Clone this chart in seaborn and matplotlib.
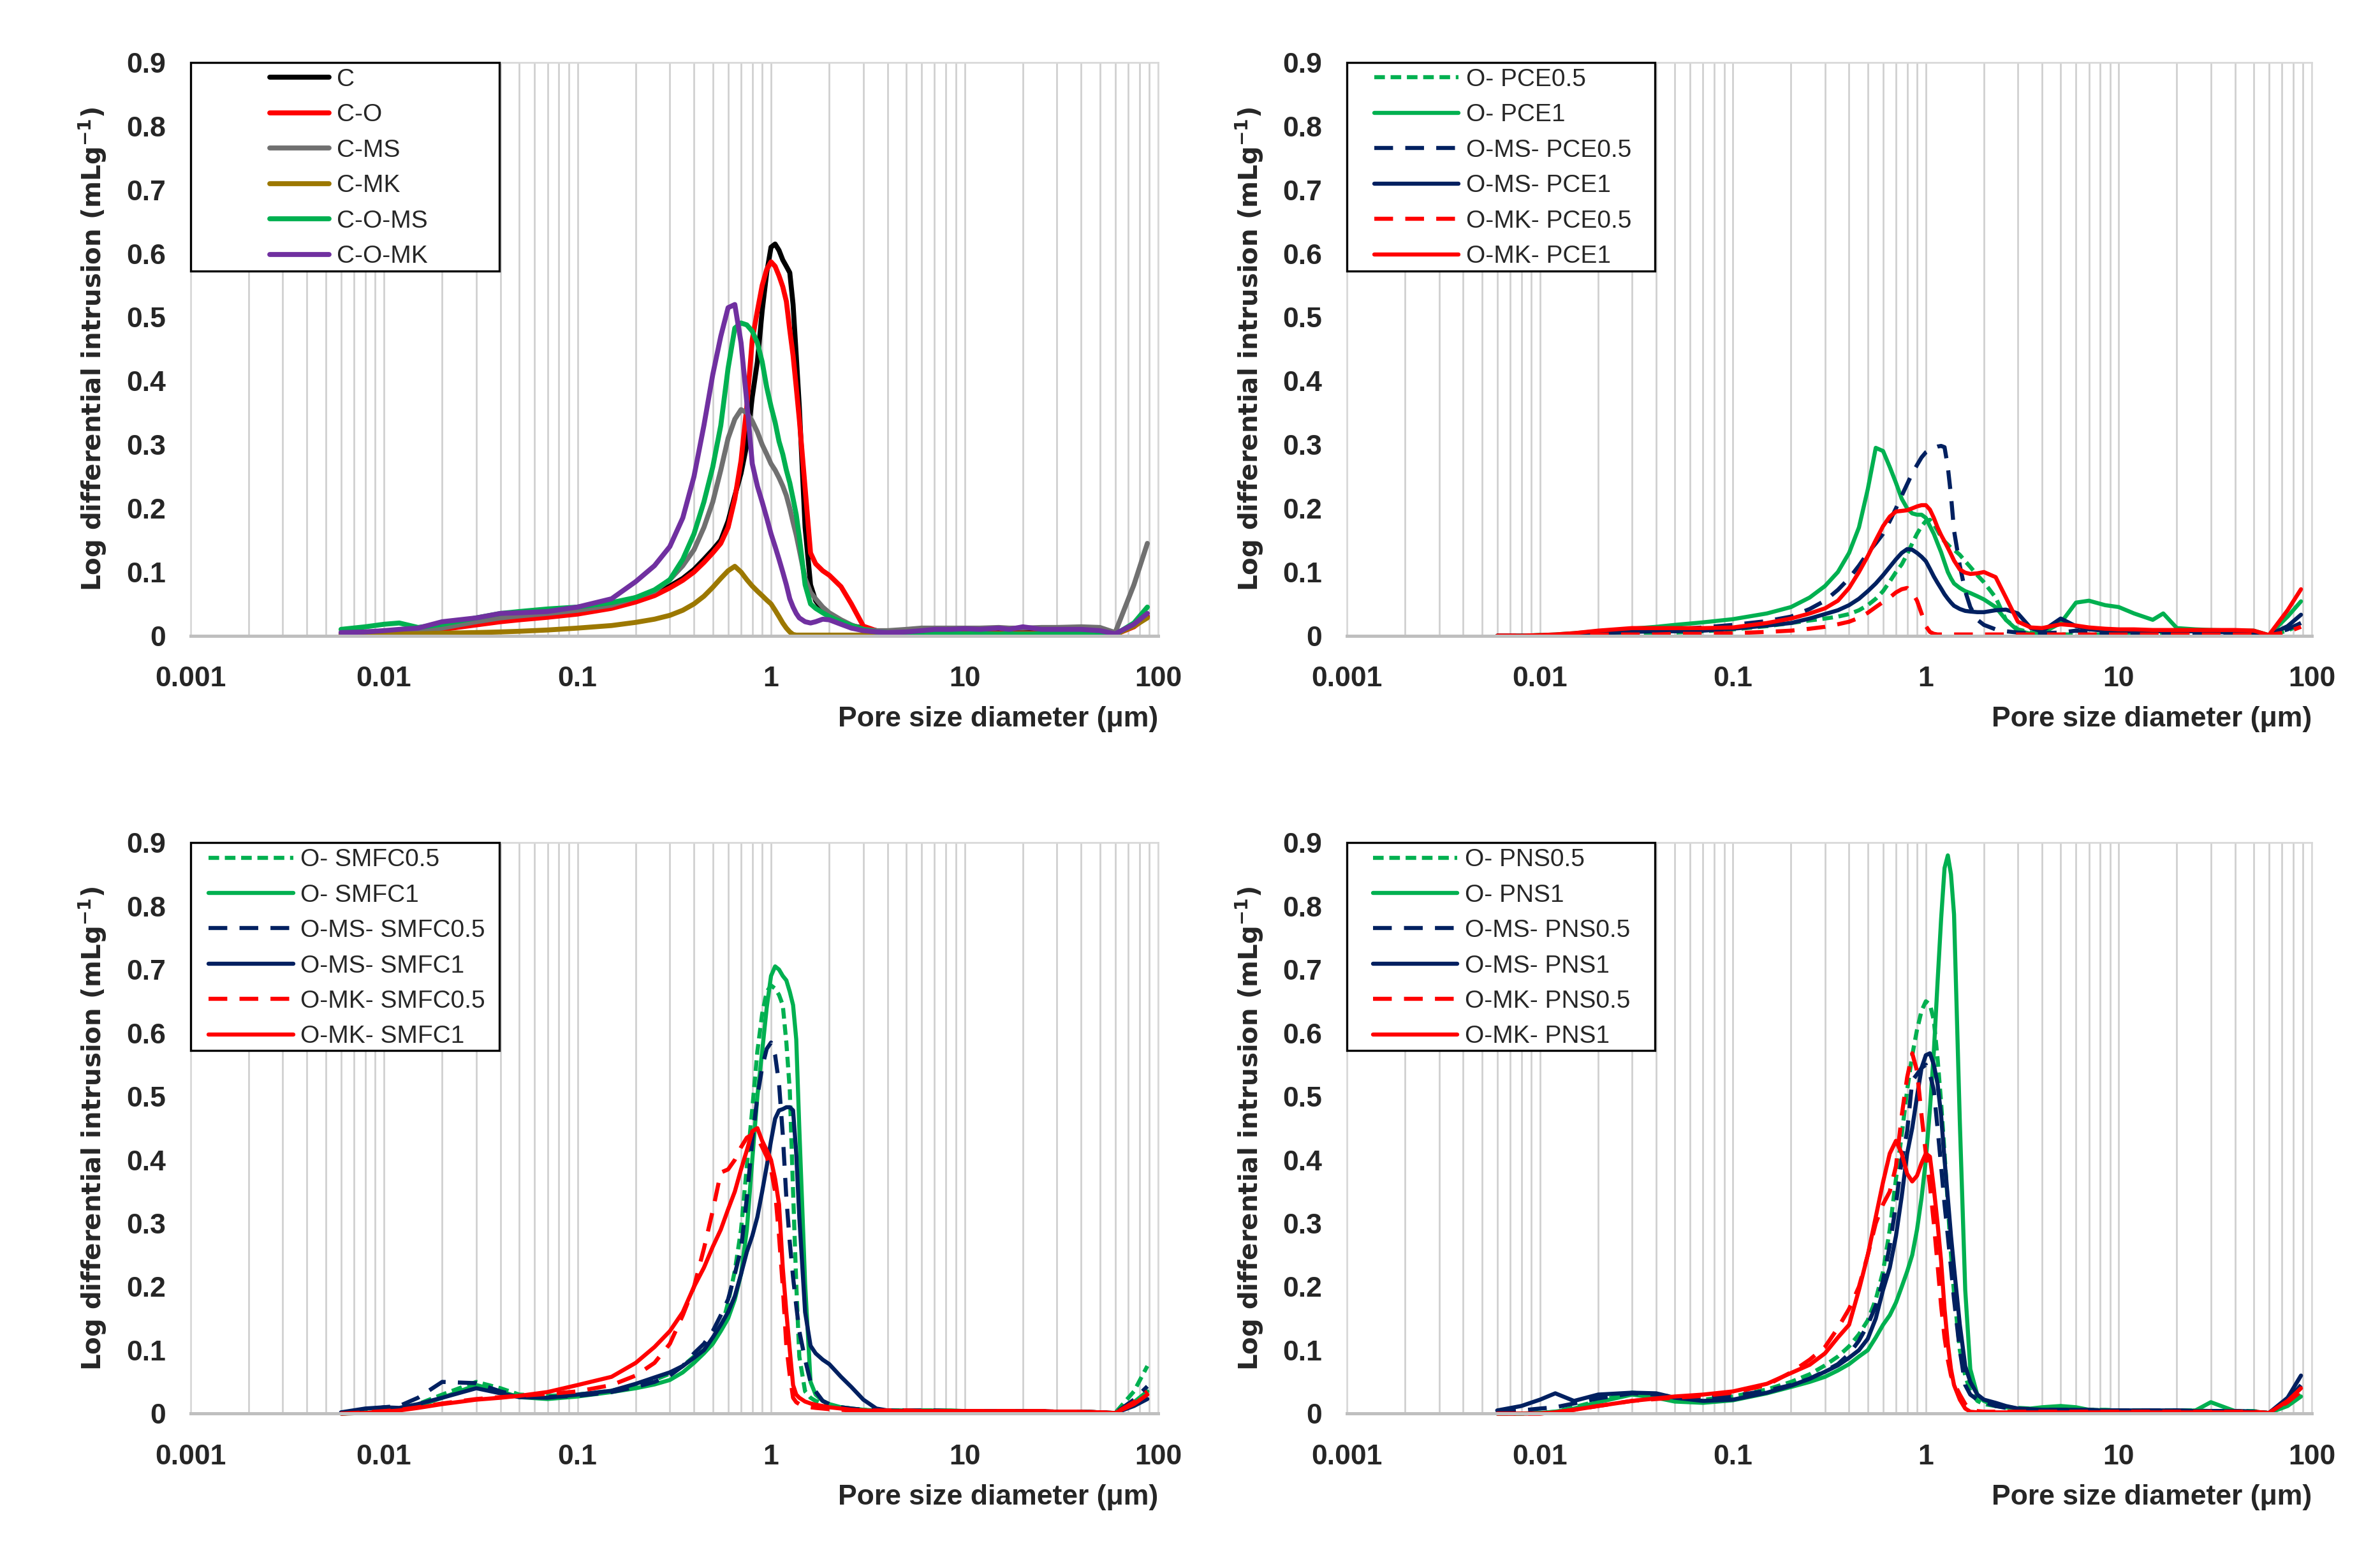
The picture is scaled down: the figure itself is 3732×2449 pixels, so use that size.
import numpy as np
import pandas as pd
import seaborn as sns
import matplotlib
matplotlib.use('Agg')
import matplotlib.pyplot as plt
from matplotlib.ticker import LogLocator, FixedLocator, FuncFormatter, NullFormatter
from matplotlib.patches import Rectangle

# pore diameter grid (um), shared by every curve
diam = [0.006, 0.008, 0.01, 0.012, 0.015,
        0.02, 0.03, 0.04, 0.05, 0.07,
        0.1, 0.15, 0.2, 0.25, 0.3,
        0.35, 0.4, 0.45, 0.5, 0.55,
        0.6, 0.65, 0.7, 0.75, 0.8,
        0.85, 0.9, 0.95, 1.0, 1.05,
        1.1, 1.15, 1.2, 1.25, 1.3,
        1.35, 1.4, 1.5, 1.6, 1.7,
        1.85, 2.0, 2.3, 2.6, 3.0,
        3.5, 4.0, 5.0, 6.0, 7.0,
        8.5, 10, 12, 15, 17,
        20, 25, 30, 40, 50,
        60, 75, 88]

# ---- panel 1: reference mixes
c_mix = [0.003, 0.004, 0.005, 0.006, 0.008,
         0.012, 0.02, 0.025, 0.028, 0.032,
         0.038, 0.046, 0.055, 0.065, 0.078,
         0.09, 0.104, 0.12, 0.135, 0.15,
         0.18, 0.22, 0.255, 0.30, 0.375,
         0.43, 0.51, 0.57, 0.61, 0.615,
         0.605, 0.59, 0.58, 0.57, 0.52,
         0.44, 0.36, 0.17, 0.08, 0.055,
         0.04, 0.03, 0.022, 0.016, 0.012,
         0.008, 0.006, 0.005, 0.005, 0.006,
         0.007, 0.008, 0.008, 0.008, 0.008,
         0.008, 0.007, 0.007, 0.006, 0.005,
         0.003, 0.015, 0.03]
c_o = [0.002, 0.003, 0.004, 0.005, 0.007,
       0.01, 0.017, 0.022, 0.025, 0.029,
       0.034, 0.043, 0.053, 0.063, 0.075,
       0.087, 0.1, 0.115, 0.13, 0.145,
       0.17, 0.215, 0.275, 0.36, 0.465,
       0.51, 0.55, 0.575, 0.587, 0.58,
       0.565, 0.548, 0.525, 0.48, 0.44,
       0.39, 0.34, 0.232, 0.13, 0.113,
       0.102, 0.095, 0.077, 0.05, 0.015,
       0.008, 0.005, 0.004, 0.004, 0.004,
       0.004, 0.004, 0.004, 0.004, 0.004,
       0.004, 0.004, 0.004, 0.004, 0.004,
       0.002, 0.014, 0.03]
c_ms = [0.005, 0.006, 0.007, 0.008, 0.009,
        0.012, 0.022, 0.028, 0.031, 0.035,
        0.04, 0.048, 0.06, 0.07, 0.088,
        0.11, 0.135, 0.17, 0.21, 0.26,
        0.31, 0.34, 0.355, 0.35, 0.337,
        0.32, 0.3, 0.285, 0.27, 0.26,
        0.248, 0.235, 0.22, 0.2, 0.178,
        0.158, 0.135, 0.09, 0.068, 0.058,
        0.045, 0.036, 0.025, 0.017, 0.01,
        0.008, 0.008, 0.01, 0.012, 0.012,
        0.012, 0.012, 0.012, 0.013, 0.012,
        0.012, 0.013, 0.013, 0.014, 0.013,
        0.005, 0.08, 0.145]
c_mk = [0.001, 0.002, 0.002, 0.003, 0.003,
        0.004, 0.005, 0.006, 0.007, 0.009,
        0.012, 0.016, 0.021, 0.026, 0.032,
        0.04, 0.05, 0.062, 0.076, 0.09,
        0.102, 0.109, 0.1, 0.088, 0.078,
        0.07, 0.063, 0.056, 0.05, 0.04,
        0.03, 0.02, 0.012, 0.006, 0.002,
        0.001, 0.001, 0.001, 0.001, 0.001,
        0.001, 0.001, 0.001, 0.001, 0.001,
        0.001, 0.001, 0.001, 0.001, 0.001,
        0.001, 0.001, 0.001, 0.001, 0.001,
        0.001, 0.001, 0.001, 0.001, 0.001,
        0.002, 0.015, 0.028]
c_o_ms = [0.01, 0.014, 0.018, 0.02, 0.013,
          0.018, 0.028, 0.035, 0.038, 0.042,
          0.045, 0.052, 0.06, 0.072, 0.088,
          0.12, 0.16, 0.21, 0.265, 0.33,
          0.42, 0.483, 0.491, 0.488, 0.478,
          0.46, 0.43, 0.39, 0.36, 0.335,
          0.305, 0.285, 0.26, 0.24, 0.215,
          0.19, 0.155, 0.08, 0.05, 0.043,
          0.036, 0.03, 0.022, 0.016, 0.01,
          0.006, 0.005, 0.004, 0.003, 0.003,
          0.003, 0.003, 0.003, 0.003, 0.003,
          0.003, 0.003, 0.004, 0.004, 0.004,
          0.002, 0.02, 0.045]
c_o_mk = [0.005, 0.006, 0.008, 0.01, 0.012,
          0.022, 0.028, 0.035, 0.036, 0.038,
          0.045, 0.058, 0.085, 0.11, 0.14,
          0.185, 0.25, 0.33, 0.41, 0.47,
          0.515, 0.52, 0.46, 0.366, 0.27,
          0.235, 0.21, 0.185, 0.16, 0.14,
          0.12, 0.1, 0.08, 0.058, 0.045,
          0.035, 0.028, 0.022, 0.02, 0.022,
          0.026, 0.025, 0.018, 0.012, 0.008,
          0.006, 0.005, 0.006, 0.008, 0.01,
          0.01, 0.011, 0.01, 0.012, 0.01,
          0.014, 0.01, 0.01, 0.01, 0.008,
          0.003, 0.018, 0.035]

# ---- panel 2: PCE
o_pce05 = [0.0, 0.0, 0.001, 0.001, 0.002,
           0.003, 0.004, 0.005, 0.005, 0.007,
           0.01, 0.015, 0.02, 0.024, 0.027,
           0.03, 0.034, 0.04, 0.048, 0.058,
           0.07, 0.085, 0.1, 0.112, 0.128,
           0.145, 0.16, 0.172, 0.18, 0.182,
           0.175, 0.165, 0.155, 0.148, 0.143,
           0.138, 0.135, 0.127, 0.117, 0.108,
           0.095, 0.084, 0.06, 0.025, 0.01,
           0.005, 0.003, 0.002, 0.002, 0.002,
           0.002, 0.002, 0.002, 0.002, 0.002,
           0.002, 0.002, 0.002, 0.002, 0.002,
           0.001, 0.008, 0.018]
o_pce1 = [0.0, 0.0, 0.001, 0.002, 0.004,
          0.007, 0.011, 0.014, 0.017, 0.021,
          0.026, 0.035, 0.045, 0.06, 0.078,
          0.1, 0.13, 0.17, 0.23, 0.295,
          0.29, 0.265, 0.24, 0.215, 0.2,
          0.192, 0.19, 0.19, 0.185, 0.172,
          0.16, 0.145, 0.131, 0.115, 0.1,
          0.09, 0.082, 0.075, 0.07, 0.067,
          0.062, 0.057, 0.045, 0.025, 0.008,
          0.003, 0.004, 0.02, 0.052, 0.055,
          0.048, 0.045, 0.035, 0.025, 0.035,
          0.012, 0.01, 0.009, 0.008, 0.008,
          0.001, 0.03, 0.054]
o_ms_pce05 = [0.0, 0.0, 0.0, 0.001, 0.002,
              0.004, 0.007, 0.009, 0.01, 0.013,
              0.017, 0.023, 0.03, 0.042, 0.055,
              0.072, 0.09, 0.11, 0.13, 0.145,
              0.16, 0.18, 0.2, 0.22, 0.238,
              0.255, 0.268, 0.28, 0.288, 0.292,
              0.295, 0.297, 0.298, 0.296, 0.265,
              0.22, 0.165, 0.11, 0.07, 0.045,
              0.025, 0.017, 0.01, 0.007, 0.005,
              0.004, 0.004, 0.005, 0.008, 0.005,
              0.004, 0.004, 0.004, 0.004, 0.004,
              0.003, 0.003, 0.003, 0.003, 0.003,
              0.001, 0.01, 0.02]
o_ms_pce1 = [0.0, 0.0, 0.0, 0.001, 0.002,
             0.004, 0.006, 0.007, 0.007, 0.008,
             0.011, 0.016, 0.02, 0.027, 0.034,
             0.04, 0.048, 0.058, 0.07, 0.082,
             0.095, 0.108, 0.12, 0.13, 0.136,
             0.135, 0.13, 0.124, 0.117, 0.105,
             0.093, 0.083, 0.074, 0.065, 0.058,
             0.052, 0.047, 0.042, 0.039, 0.038,
             0.037, 0.037, 0.04, 0.041, 0.035,
             0.012, 0.007, 0.027, 0.015, 0.01,
             0.008, 0.007, 0.007, 0.007, 0.007,
             0.007, 0.007, 0.006, 0.005, 0.004,
             0.001, 0.015, 0.033]
o_mk_pce05 = [0.0, 0.0, 0.0, 0.001, 0.001,
              0.002, 0.002, 0.002, 0.003, 0.003,
              0.004, 0.006, 0.008, 0.011, 0.014,
              0.018, 0.022, 0.028, 0.036, 0.045,
              0.053, 0.06, 0.068, 0.073, 0.075,
              0.068, 0.055, 0.035, 0.015, 0.006,
              0.003, 0.002, 0.002, 0.002, 0.002,
              0.002, 0.002, 0.002, 0.002, 0.002,
              0.002, 0.002, 0.002, 0.002, 0.002,
              0.002, 0.002, 0.002, 0.002, 0.002,
              0.002, 0.002, 0.002, 0.002, 0.002,
              0.002, 0.002, 0.002, 0.002, 0.002,
              0.001, 0.006, 0.014]
o_mk_pce1 = [0.0, 0.0, 0.001, 0.002, 0.004,
             0.008, 0.012, 0.012, 0.012, 0.012,
             0.013, 0.02, 0.027, 0.035, 0.043,
             0.055, 0.075, 0.1, 0.125, 0.15,
             0.172, 0.187, 0.195, 0.196, 0.197,
             0.2, 0.203, 0.205, 0.205, 0.198,
             0.185, 0.17, 0.158, 0.148, 0.138,
             0.128, 0.118, 0.104, 0.099, 0.097,
             0.098, 0.1, 0.092, 0.06, 0.022,
             0.013, 0.012, 0.018, 0.016, 0.013,
             0.011, 0.01, 0.01, 0.009, 0.009,
             0.009, 0.009, 0.009, 0.009, 0.008,
             0.001, 0.04, 0.073]

# ---- panel 3: SMFC
o_smfc05 = [0.0, 0.002, 0.005, 0.008, 0.015,
            0.03, 0.05, 0.04, 0.03, 0.028,
            0.03, 0.036, 0.045, 0.053, 0.063,
            0.075, 0.09, 0.1, 0.115, 0.131,
            0.175, 0.225, 0.29, 0.39, 0.48,
            0.571, 0.63, 0.665, 0.675, 0.67,
            0.66, 0.644, 0.585, 0.51, 0.35,
            0.205, 0.09, 0.035, 0.025, 0.02,
            0.016, 0.013, 0.01, 0.008, 0.006,
            0.005, 0.005, 0.005, 0.005, 0.005,
            0.004, 0.004, 0.004, 0.004, 0.004,
            0.004, 0.004, 0.003, 0.003, 0.002,
            0.001, 0.035, 0.075]
o_smfc1 = [0.0, 0.001, 0.003, 0.006, 0.012,
           0.025, 0.045, 0.035, 0.026, 0.023,
           0.027, 0.034, 0.04, 0.046, 0.053,
           0.065, 0.08, 0.095, 0.11, 0.13,
           0.15, 0.18, 0.22, 0.29, 0.4,
           0.5, 0.571, 0.64, 0.69, 0.705,
           0.7, 0.69, 0.683, 0.665, 0.644,
           0.59, 0.45, 0.205, 0.05, 0.03,
           0.02, 0.015, 0.01, 0.008, 0.006,
           0.005, 0.005, 0.005, 0.005, 0.005,
           0.005, 0.004, 0.004, 0.004, 0.004,
           0.004, 0.003, 0.003, 0.003, 0.002,
           0.001, 0.018, 0.035]
o_ms_smfc05 = [0.0, 0.005, 0.01, 0.012, 0.025,
               0.05, 0.048, 0.035, 0.028, 0.026,
               0.028, 0.034, 0.042, 0.05, 0.06,
               0.075, 0.095, 0.11, 0.13, 0.155,
               0.18, 0.22, 0.26, 0.34, 0.43,
               0.5, 0.546, 0.575, 0.585, 0.565,
               0.52, 0.44, 0.34, 0.27, 0.215,
               0.17, 0.13, 0.085, 0.05, 0.035,
               0.02, 0.015, 0.01, 0.008, 0.006,
               0.005, 0.005, 0.005, 0.005, 0.005,
               0.004, 0.004, 0.004, 0.004, 0.004,
               0.004, 0.004, 0.003, 0.003, 0.002,
               0.001, 0.022, 0.043]
o_ms_smfc1 = [0.002, 0.008, 0.01, 0.009, 0.015,
              0.025, 0.04, 0.032, 0.026, 0.025,
              0.03, 0.036, 0.047, 0.057, 0.065,
              0.075, 0.088, 0.1, 0.12, 0.14,
              0.16, 0.185, 0.22, 0.255, 0.28,
              0.31, 0.35, 0.39, 0.43, 0.465,
              0.478, 0.48, 0.483, 0.483, 0.478,
              0.41, 0.31, 0.16, 0.107, 0.095,
              0.085, 0.078, 0.058, 0.042, 0.022,
              0.008, 0.005, 0.004, 0.004, 0.004,
              0.004, 0.004, 0.004, 0.004, 0.004,
              0.004, 0.004, 0.003, 0.003, 0.002,
              0.001, 0.012, 0.023]
o_mk_smfc05 = [0.0, 0.002, 0.004, 0.006, 0.01,
               0.016, 0.023, 0.026, 0.028, 0.031,
               0.035, 0.045, 0.06, 0.08, 0.11,
               0.155, 0.2, 0.26, 0.32, 0.38,
               0.385, 0.4, 0.42, 0.435, 0.44,
               0.435, 0.42, 0.405, 0.385, 0.35,
               0.28, 0.2, 0.107, 0.06, 0.025,
               0.018, 0.015, 0.012, 0.01, 0.009,
               0.008, 0.007, 0.006, 0.005, 0.005,
               0.005, 0.005, 0.005, 0.004, 0.004,
               0.004, 0.004, 0.004, 0.004, 0.004,
               0.004, 0.004, 0.003, 0.003, 0.002,
               0.001, 0.018, 0.035]
o_mk_smfc1 = [0.0, 0.001, 0.003, 0.005, 0.009,
              0.015, 0.022, 0.025, 0.028, 0.034,
              0.045, 0.058, 0.08, 0.105, 0.13,
              0.16, 0.2, 0.23, 0.263, 0.29,
              0.322, 0.35, 0.385, 0.415, 0.445,
              0.45, 0.43, 0.415, 0.4, 0.37,
              0.33, 0.23, 0.16, 0.1, 0.045,
              0.03, 0.025, 0.019, 0.016, 0.014,
              0.012, 0.01, 0.008, 0.006, 0.005,
              0.004, 0.004, 0.004, 0.004, 0.004,
              0.004, 0.004, 0.004, 0.004, 0.004,
              0.004, 0.004, 0.003, 0.003, 0.002,
              0.001, 0.015, 0.03]

# ---- panel 4: PNS
o_pns05 = [0.0, 0.0, 0.001, 0.003, 0.01,
           0.02, 0.033, 0.03, 0.025, 0.022,
           0.027, 0.038, 0.05, 0.062, 0.076,
           0.09, 0.106, 0.125, 0.147, 0.18,
           0.224, 0.29, 0.37, 0.44, 0.51,
           0.565, 0.605, 0.635, 0.65, 0.645,
           0.62, 0.56, 0.49, 0.41, 0.33,
           0.25, 0.19, 0.1, 0.06, 0.035,
           0.02, 0.015, 0.012, 0.01, 0.009,
           0.008, 0.008, 0.007, 0.006, 0.006,
           0.006, 0.005, 0.005, 0.005, 0.005,
           0.005, 0.005, 0.004, 0.004, 0.004,
           0.001, 0.015, 0.03]
o_pns1 = [0.0, 0.0, 0.001, 0.003, 0.008,
          0.018, 0.03, 0.025, 0.019, 0.017,
          0.021, 0.032, 0.042, 0.05, 0.058,
          0.068, 0.078, 0.09, 0.1, 0.12,
          0.14, 0.155, 0.175, 0.2, 0.224,
          0.25, 0.29, 0.34, 0.4, 0.48,
          0.57, 0.68, 0.78, 0.86, 0.88,
          0.85, 0.787, 0.46, 0.195, 0.07,
          0.029, 0.02, 0.012, 0.01, 0.008,
          0.008, 0.01, 0.012, 0.01, 0.006,
          0.005, 0.005, 0.004, 0.004, 0.004,
          0.004, 0.005, 0.018, 0.004, 0.003,
          0.001, 0.012, 0.027]
o_ms_pns05 = [0.002, 0.005, 0.008, 0.01, 0.016,
              0.024, 0.032, 0.03, 0.026, 0.024,
              0.028, 0.036, 0.045, 0.055, 0.067,
              0.078, 0.094, 0.115, 0.14, 0.17,
              0.21, 0.265, 0.33, 0.4, 0.445,
              0.525, 0.535, 0.545, 0.55, 0.535,
              0.51, 0.45, 0.39, 0.33, 0.28,
              0.23, 0.18, 0.1, 0.045, 0.03,
              0.022, 0.018, 0.012, 0.009, 0.007,
              0.006, 0.006, 0.006, 0.006, 0.006,
              0.005, 0.005, 0.005, 0.005, 0.005,
              0.005, 0.004, 0.004, 0.004, 0.003,
              0.001, 0.02, 0.045]
o_ms_pns1 = [0.005, 0.012, 0.022, 0.032, 0.02,
             0.03, 0.033, 0.032, 0.025, 0.02,
             0.022, 0.033, 0.044, 0.055, 0.066,
             0.076, 0.088, 0.1, 0.118, 0.15,
             0.195, 0.23, 0.28, 0.343, 0.41,
             0.45, 0.5, 0.545, 0.565, 0.568,
             0.55, 0.52, 0.47, 0.4, 0.34,
             0.28, 0.23, 0.14, 0.075, 0.05,
             0.03, 0.022, 0.017, 0.012, 0.008,
             0.007, 0.006, 0.006, 0.006, 0.005,
             0.005, 0.005, 0.005, 0.005, 0.005,
             0.005, 0.004, 0.004, 0.004, 0.003,
             0.001, 0.025, 0.06]
o_mk_pns05 = [0.0, 0.0, 0.0, 0.002, 0.006,
              0.012, 0.02, 0.023, 0.025, 0.028,
              0.033, 0.045, 0.065, 0.085, 0.105,
              0.135, 0.165, 0.2, 0.25, 0.3,
              0.33, 0.35, 0.39, 0.47, 0.53,
              0.568, 0.54, 0.47, 0.41, 0.36,
              0.3, 0.235, 0.17, 0.12, 0.085,
              0.06, 0.048, 0.03, 0.015, 0.007,
              0.004, 0.003, 0.003, 0.003, 0.003,
              0.003, 0.003, 0.003, 0.003, 0.003,
              0.003, 0.003, 0.003, 0.003, 0.003,
              0.003, 0.003, 0.003, 0.003, 0.003,
              0.001, 0.018, 0.035]
o_mk_pns1 = [0.0, 0.0, 0.0, 0.002, 0.006,
             0.012, 0.02, 0.024, 0.027, 0.03,
             0.035, 0.047, 0.064, 0.077, 0.095,
             0.12, 0.14, 0.195, 0.25, 0.31,
             0.365, 0.41, 0.43, 0.41, 0.378,
             0.366, 0.375, 0.395, 0.41, 0.405,
             0.355, 0.3, 0.24, 0.165, 0.11,
             0.07, 0.045, 0.022, 0.008, 0.003,
             0.002, 0.002, 0.002, 0.002, 0.002,
             0.002, 0.002, 0.002, 0.002, 0.002,
             0.002, 0.002, 0.002, 0.002, 0.002,
             0.002, 0.002, 0.002, 0.002, 0.002,
             0.001, 0.02, 0.04]

labels_ref = ['C', 'C-O', 'C-MS', 'C-MK', 'C-O-MS', 'C-O-MK']
labels_pce = ['O- PCE0.5', 'O- PCE1', 'O-MS- PCE0.5', 'O-MS- PCE1', 'O-MK- PCE0.5', 'O-MK- PCE1']
labels_smfc = ['O- SMFC0.5', 'O- SMFC1', 'O-MS- SMFC0.5', 'O-MS- SMFC1', 'O-MK- SMFC0.5', 'O-MK- SMFC1']
labels_pns = ['O- PNS0.5', 'O- PNS1', 'O-MS- PNS0.5', 'O-MS- PNS1', 'O-MK- PNS0.5', 'O-MK- PNS1']

GREEN, NAVY, RED = '#00B050', '#002060', '#FF0000'
ref_colors = ['#000000', RED, '#707070', '#9C7800', GREEN, '#7030A0']
adm_colors = [GREEN, GREEN, NAVY, NAVY, RED, RED]
short_dash = (0, (2.6, 1.4))
long_dash = (0, (4.6, 3.0))
adm_styles = [short_dash, '-', long_dash, '-', long_dash, '-']

sns.set_theme(style='white')
plt.rcParams['font.family'] = ['Liberation Sans', 'DejaVu Sans']
plt.rcParams['mathtext.fontset'] = 'dejavusans'

fig = plt.figure(figsize=(18.66, 12.245), dpi=200)
boxes = [[0.080, 0.593, 0.4066, 0.367],
         [0.566, 0.593, 0.4053, 0.367],
         [0.080, 0.095, 0.4066, 0.3655],
         [0.566, 0.095, 0.4053, 0.3655]]

panels = [
    ([c_mix, c_o, c_ms, c_mk, c_o_ms, c_o_mk], labels_ref, ref_colors, ['-'] * 6, 2.8, 0.082, 2.4),
    ([o_pce05, o_pce1, o_ms_pce05, o_ms_pce1, o_mk_pce05, o_mk_pce1], labels_pce, adm_colors, adm_styles, 2.3, 0.028, 3.4),
    ([o_smfc05, o_smfc1, o_ms_smfc05, o_ms_smfc1, o_mk_smfc05, o_mk_smfc1], labels_smfc, adm_colors, adm_styles, 2.3, 0.019, 3.4),
    ([o_pns05, o_pns1, o_ms_pns05, o_ms_pns1, o_mk_pns05, o_mk_pns1], labels_pns, adm_colors, adm_styles, 2.3, 0.027, 3.4),
]

for box, (series, labels, colors, styles, lw, hx, hlen) in zip(boxes, panels):
    ax = fig.add_axes(box)
    for vals, lab, col, ls in zip(series, labels, colors, styles):
        sns.lineplot(x=diam, y=vals, ax=ax, color=col, linestyle=ls, linewidth=lw,
                     label=lab, errorbar=None, clip_on=False, legend=False)
    ax.set_xscale('log')
    ax.set_xlim(0.001, 100)
    ax.set_ylim(0, 0.9)
    ax.xaxis.set_major_locator(FixedLocator([0.001, 0.01, 0.1, 1, 10, 100]))
    ax.xaxis.set_major_formatter(FuncFormatter(lambda v, _: f'{v:g}'))
    ax.xaxis.set_minor_locator(LogLocator(base=10, subs=range(2, 10), numticks=20))
    ax.xaxis.set_minor_formatter(NullFormatter())
    ax.yaxis.set_major_locator(FixedLocator(np.arange(0, 0.95, 0.1)))
    ax.yaxis.set_major_formatter(FuncFormatter(lambda v, _: '0' if abs(v) < 1e-9 else f'{v:.1f}'))
    ax.grid(False)
    ax.grid(True, axis='x', which='both', color='#D0D0D0', linewidth=1.0)
    ax.tick_params(axis='both', which='both', length=0)
    ax.tick_params(axis='x', pad=17, labelsize=16)
    ax.tick_params(axis='y', pad=14, labelsize=16)
    for t in ax.get_xticklabels() + ax.get_yticklabels():
        t.set_fontweight('bold')
    for side in ['top', 'left', 'right']:
        ax.spines[side].set_color('#D9D9D9')
        ax.spines[side].set_linewidth(1.0)
    ax.spines['bottom'].set_color('#BFBFBF')
    ax.spines['bottom'].set_linewidth(1.8)
    ax.set_xlabel('Pore size diameter (\u03bcm)', loc='right', fontsize=16,
                  fontweight='bold', labelpad=8)
    ax.set_ylabel(r'Log differential intrusion (mLg$^{\mathbf{-1}}$)', fontsize=14.5,
                  fontweight='bold', family='DejaVu Sans', labelpad=10)

    leg = ax.legend(loc='upper left', bbox_to_anchor=(hx, 0.99), frameon=False,
                    borderpad=0, borderaxespad=0, handlelength=hlen, handletextpad=0.3,
                    labelspacing=0.5, fontsize=14)
    leg.set_zorder(5)
    ax.add_patch(Rectangle((0, 0.636), 0.319, 0.364, transform=ax.transAxes,
                           facecolor='white', edgecolor='black', linewidth=1.2,
                           zorder=4, clip_on=False))

fig.savefig('out.png', dpi=200, facecolor='white')
